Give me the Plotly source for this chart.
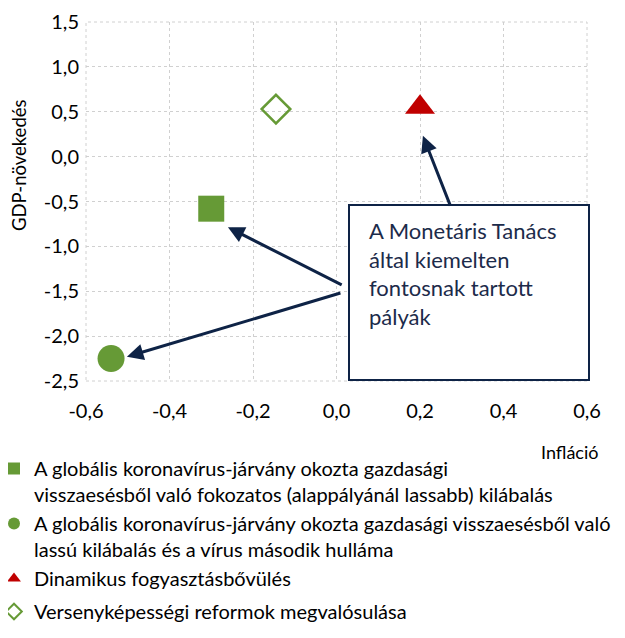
import plotly.graph_objects as go

# ---- data ----
series_names = [
    "A globális koronavírus-járvány okozta gazdasági<br>visszaesésből való fokozatos (alappályánál lassabb) kilábalás",
    "A globális koronavírus-járvány okozta gazdasági visszaesésből való<br>lassú kilábalás és a vírus második hulláma",
    "Dinamikus fogyasztásbővülés",
    "Versenyképességi reformok megvalósulása",
]
inflation = [-0.30, -0.54, 0.20, -0.145]
gdp_growth = [-0.58, -2.25, 0.55, 0.53]

x_tickvals = [-0.6, -0.4, -0.2, 0.0, 0.2, 0.4, 0.6]
x_ticktext = ["-0,6", "-0,4", "-0,2", "0,0", "0,2", "0,4", "0,6"]
y_tickvals = [1.5, 1.0, 0.5, 0.0, -0.5, -1.0, -1.5, -2.0, -2.5]
y_ticktext = ["1,5", "1,0", "0,5", "0,0", "-0,5", "-1,0", "-1,5", "-2,0", "-2,5"]

box_text = "A Monetáris Tanács<br>által kiemelten<br>fontosnak tartott<br>pályák"
x_title = "Infláció"
y_title = "GDP-növekedés"

# ---- styling ----
GREEN = "#669a36"
RED = "#c00000"
NAVY = "#0e2346"
FONT = "Lato"

OFF = 8  # page body margin
W, H = 625 - 2 * OFF, 638 - 2 * OFF
ML, MT = 86 - OFF, 22 - OFF
MR = W - (587 - OFF)
MB = H - (381 - OFF)
PW, PH = W - ML - MR, H - MT - MB


def px_x(p):  # screen pixel -> paper x
    return (p - OFF - ML) / PW


def px_y(p):  # screen pixel -> paper y
    return (H - MB - (p - OFF)) / PH


fig = go.Figure()

styles = [
    dict(symbol="square", size=26, color=GREEN),
    dict(symbol="circle", size=27, color=GREEN),
    dict(symbol="triangle-up", size=26, color=RED),
    dict(symbol="diamond-open", size=22, color=GREEN, line=dict(width=2.5, color=GREEN)),
]
groups = ["a", "a", "a", "b"]

for i in range(4):
    fig.add_trace(go.Scatter(x=[inflation[i]], y=[gdp_growth[i]], mode="markers",
                             name=series_names[i], marker=styles[i],
                             legendgroup=groups[i]))

grid = dict(showgrid=True, gridcolor="#d0d0d0", griddash="dot", gridwidth=1,
            zeroline=False, showline=False, ticks="")

fig.update_layout(
    width=W, height=H,
    margin=dict(l=ML, r=MR, t=MT, b=MB, autoexpand=False),
    paper_bgcolor="white", plot_bgcolor="white",
    font=dict(family=FONT, size=20, color="black"),
    xaxis=dict(range=[-0.6, 0.6], tickvals=x_tickvals, ticktext=x_ticktext,
               ticklabelstandoff=16, **grid),
    yaxis=dict(range=[-2.5, 1.5], tickvals=y_tickvals, ticktext=y_ticktext,
               ticklabelstandoff=6, **grid),
    # axis lines crossing at zero, with tick marks
    xaxis2=dict(overlaying="x", anchor="free", position=(0 - (-2.5)) / 4.0,
                range=[-0.6, 0.6], tickvals=x_tickvals, showticklabels=False,
                ticks="outside", ticklen=5, tickwidth=2, tickcolor="#8c8c8c",
                showline=True, linecolor="#8c8c8c", linewidth=2, showgrid=False, zeroline=False),
    yaxis2=dict(overlaying="y", anchor="free", position=0.5,
                range=[-2.5, 1.5], tickvals=y_tickvals, showticklabels=False,
                ticks="outside", ticklen=5, tickwidth=2, tickcolor="#8c8c8c",
                showline=True, linecolor="#8c8c8c", linewidth=2, showgrid=False, zeroline=False),
    legend=dict(orientation="v", x=px_x(-6), y=px_y(449), xanchor="left", yanchor="top",
                valign="top", itemsizing="constant", tracegroupgap=4,
                traceorder="grouped",
                font=dict(family=FONT, size=20, color="black"),
                bgcolor="rgba(0,0,0,0)"),
    showlegend=True,
)

# plot border (dotted)
fig.add_shape(type="rect", xref="paper", yref="paper", x0=0, x1=1, y0=0, y1=1,
              line=dict(color="#d0d0d0", width=1, dash="dot"), layer="below")

# callout box
fig.add_shape(type="rect", xref="paper", yref="paper",
              x0=px_x(349), x1=px_x(589), y0=px_y(380), y1=px_y(205),
              line=dict(color=NAVY, width=2), fillcolor="white", layer="above")
fig.add_annotation(xref="paper", yref="paper", x=px_x(367), y=px_y(215),
                   xanchor="left", yanchor="top", align="left", showarrow=False,
                   text=box_text, font=dict(family=FONT, size=22, color="#1c2b4a"))

# arrows (tail -> head, data coordinates)
arrows = [
    ((0.274, -0.563), (0.207, 0.232)),
    ((0.016, -1.437), (-0.260, -0.787)),
    ((0.013, -1.515), (-0.502, -2.23)),
]
for (tx, ty), (hx, hy) in arrows:
    fig.add_annotation(x=hx, y=hy, ax=tx, ay=ty, xref="x", yref="y", axref="x", ayref="y",
                       showarrow=True, arrowhead=2, arrowsize=1.1, arrowwidth=3,
                       arrowcolor=NAVY, text="")

# axis titles
fig.add_annotation(xref="paper", yref="paper", x=px_x(19), y=px_y(165),
                   xanchor="center", yanchor="middle",
                   textangle=-90, showarrow=False, text=y_title,
                   font=dict(family=FONT, size=18.5, color="black"))
fig.add_annotation(xref="paper", yref="paper", x=px_x(569), y=px_y(452),
                   xanchor="center", yanchor="middle",
                   showarrow=False, text=x_title,
                   font=dict(family=FONT, size=18, color="black"))

fig.write_html("out.html")
